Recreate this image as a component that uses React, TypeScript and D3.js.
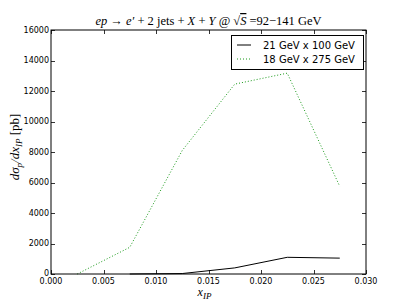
import { useEffect, useRef } from 'react';
import * as d3 from 'd3';

const xIP = [0.0025, 0.0075, 0.0125, 0.0175, 0.0225, 0.0275];
const series21x100 = [null, 0, 30, 400, 1095, 1040];
const series18x275 = [0, 1750, 8100, 12450, 13170, 5750];
const xTicks = [0, 0.005, 0.01, 0.015, 0.02, 0.025, 0.03];
const yTicks = [0, 2000, 4000, 6000, 8000, 10000, 12000, 14000, 16000];
const legendLabels = ['21 GeV x 100 GeV', '18 GeV x 275 GeV'];

const W = 407;
const H = 305;
const M = { left: 51, right: 41, top: 30, bottom: 31 };
const SANS = 'DejaVu Sans, sans-serif';
const SERIF = 'DejaVu Serif, serif';

export default function App() {
  const svgRef = useRef<SVGSVGElement>(null);

  useEffect(() => {
    if (!svgRef.current) return;
    const svg = d3.select(svgRef.current);
    svg.selectAll('*').remove();

    const x = d3.scaleLinear().domain([0, 0.03]).range([M.left, W - M.right]);
    const y = d3.scaleLinear().domain([0, 16000]).range([H - M.bottom, M.top]);

    svg.append('rect').attr('width', W).attr('height', H).attr('fill', '#fff');

    // lines
    const line = d3
      .line<[number, number | null]>()
      .defined((d) => d[1] !== null)
      .x((d) => x(d[0]))
      .y((d) => y(d[1] as number));

    svg
      .append('path')
      .datum(xIP.map((v, i) => [v, series18x275[i]] as [number, number | null]))
      .attr('d', line)
      .attr('fill', 'none')
      .attr('stroke', '#1a9a1a')
      .attr('stroke-width', 1)
      .attr('stroke-dasharray', '1,2');

    svg
      .append('path')
      .datum(xIP.map((v, i) => [v, series21x100[i]] as [number, number | null]))
      .attr('d', line)
      .attr('fill', 'none')
      .attr('stroke', '#000')
      .attr('stroke-width', 1);

    // frame
    svg
      .append('rect')
      .attr('x', M.left)
      .attr('y', M.top)
      .attr('width', W - M.left - M.right)
      .attr('height', H - M.top - M.bottom)
      .attr('fill', 'none')
      .attr('stroke', '#000')
      .attr('stroke-width', 1);

    // ticks, inward on all sides
    const tl = 4;
    const g = svg.append('g').attr('stroke', '#000').attr('stroke-width', 0.8);
    xTicks.forEach((t) => {
      const px = Math.round(x(t)) + 0.5;
      g.append('line').attr('x1', px).attr('x2', px).attr('y1', H - M.bottom).attr('y2', H - M.bottom - tl);
      g.append('line').attr('x1', px).attr('x2', px).attr('y1', M.top).attr('y2', M.top + tl);
    });
    yTicks.forEach((t) => {
      const py = Math.round(y(t)) + 0.5;
      g.append('line').attr('x1', M.left).attr('x2', M.left + tl).attr('y1', py).attr('y2', py);
      g.append('line').attr('x1', W - M.right).attr('x2', W - M.right - tl).attr('y1', py).attr('y2', py);
    });

    const labels = svg.append('g').attr('font-family', SANS).attr('font-size', 8).attr('fill', '#000');
    xTicks.forEach((t) => {
      labels
        .append('text')
        .attr('x', x(t))
        .attr('y', H - M.bottom + 10)
        .attr('text-anchor', 'middle')
        .text(d3.format('.3f')(t));
    });
    yTicks.forEach((t) => {
      labels
        .append('text')
        .attr('x', M.left - 2)
        .attr('y', y(t) - (t === 0 ? 1 : 0))
        .attr('dy', '0.35em')
        .attr('text-anchor', 'end')
        .text(String(t));
    });

    // title
    const title = svg
      .append('text')
      .attr('x', (M.left + W - M.right) / 2)
      .attr('y', 25)
      .attr('text-anchor', 'middle')
      .attr('font-family', 'Liberation Serif, serif')
      .attr('font-size', 12.5);
    title.append('tspan').attr('font-style', 'italic').text('ep');
    title.append('tspan').text(' → ');
    title.append('tspan').attr('font-style', 'italic').text('e′');
    title.append('tspan').text('  + 2 jets + ');
    title.append('tspan').attr('font-style', 'italic').text('X');
    title.append('tspan').text(' + ');
    title.append('tspan').attr('font-style', 'italic').text('Y');
    title.append('tspan').text(' @ √');
    title.append('tspan').attr('font-style', 'italic').attr('text-decoration', 'overline').text('S');
    title.append('tspan').text(' =92−141 GeV');

    // x label
    const xl = svg
      .append('text')
      .attr('x', (M.left + W - M.right) / 2 - 4)
      .attr('y', 296)
      .attr('text-anchor', 'middle')
      .attr('font-family', 'Liberation Serif, serif')
      .attr('font-size', 12)
      .attr('font-style', 'italic');
    xl.append('tspan').text('x');
    xl.append('tspan').attr('font-size', 9).attr('dy', 3).text('IP');

    // y label
    const yl = svg
      .append('text')
      .attr('transform', `translate(19,${(M.top + H - M.bottom) / 2 - 5}) rotate(-90)`)
      .attr('text-anchor', 'middle')
      .attr('font-family', 'Liberation Serif, serif')
      .attr('font-size', 13);
    yl.append('tspan').attr('font-style', 'italic').text('dσ');
    yl.append('tspan').attr('font-style', 'italic').attr('font-size', 9).attr('dy', 3).text('p');
    yl.append('tspan').attr('font-style', 'italic').attr('dy', -3).text('/dx');
    yl.append('tspan').attr('font-style', 'italic').attr('font-size', 9).attr('dy', 3).text('IP');
    yl.append('tspan').attr('dy', -3).text(' [pb]');

    // legend
    const lg = svg.append('g');
    lg.append('rect')
      .attr('x', 231.5)
      .attr('y', 35.5)
      .attr('width', 132)
      .attr('height', 34)
      .attr('fill', '#fff')
      .attr('stroke', '#000')
      .attr('stroke-width', 1);
    const styles = [
      { stroke: '#000', dash: null },
      { stroke: '#1a9a1a', dash: '1,2' },
    ];
    legendLabels.forEach((lab, i) => {
      const cy = 45 + i * 14;
      lg.append('line')
        .attr('x1', 237)
        .attr('x2', 251)
        .attr('y1', cy)
        .attr('y2', cy)
        .attr('stroke', styles[i].stroke)
        .attr('stroke-width', 1)
        .attr('stroke-dasharray', styles[i].dash);
      lg.append('text')
        .attr('x', 263)
        .attr('y', cy)
        .attr('dy', '0.35em')
        .attr('font-family', SANS)
        .attr('font-size', 10)
        .text(lab);
    });
  }, []);

  return <svg ref={svgRef} width={W} height={H} style={{ position: 'absolute', left: 0, top: 0 }} />;
}
